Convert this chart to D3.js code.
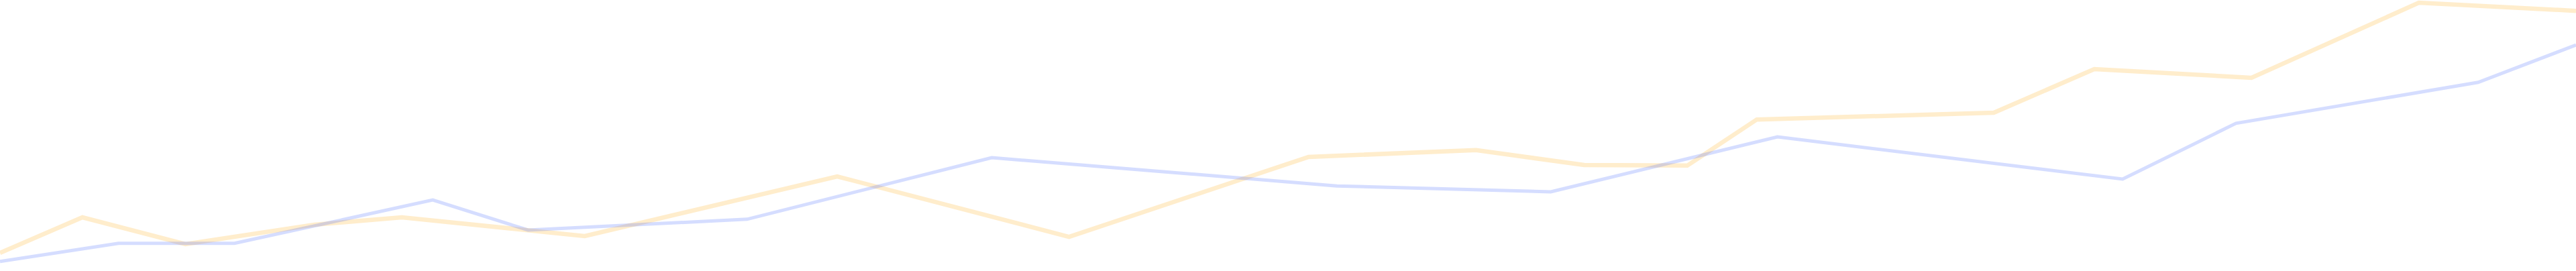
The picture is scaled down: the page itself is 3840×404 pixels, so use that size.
<!DOCTYPE html>
<html>
<head>
<meta charset="utf-8">
<script src="https://cdn.jsdelivr.net/npm/d3@7"></script>
<style>
  html, body { margin: 0; padding: 0; background: #ffffff; }
  svg { display: block; }
</style>
</head>
<body>
<div id="chart"></div>
<script>
// Series A (orange): x positions (0–100) and values (0–100)
const orangeX = [0, 3.2, 7.2, 12.2, 15.6, 22.7, 32.5, 41.5, 50.8, 57.3, 61.5, 65.5, 68.2, 77.4, 81.3, 87.4, 93.9, 100];
const orangeY = [6.7, 19.8, 9.9, 17.1, 19.8, 12.9, 34.9, 12.6, 42.1, 44.6, 39.1, 38.9, 55.9, 58.4, 74.5, 71.3, 99.0, 96.0];

// Series B (blue)
const blueX = [0, 4.6, 9.1, 16.8, 20.5, 29.0, 38.5, 51.9, 60.2, 69.0, 82.4, 86.8, 96.2, 100];
const blueY = [3.5, 10.2, 10.2, 26.2, 15.1, 19.1, 41.8, 31.4, 29.2, 49.5, 33.9, 54.5, 69.6, 83.4];

const W = 3840, H = 404;

const svg = d3.select("#chart").append("svg")
  .attr("width", W).attr("height", H);

svg.append("rect").attr("width", W).attr("height", H).attr("fill", "#ffffff");

const x = d3.scaleLinear().domain([0, 100]).range([0, W]);
const y = d3.scaleLinear().domain([0, 100]).range([H, 0]);

const line = d3.line().x(d => x(d[0])).y(d => y(d[1]));

const orangeData = orangeX.map((v, i) => [v, orangeY[i]]);
const blueData = blueX.map((v, i) => [v, blueY[i]]);

svg.append("path")
  .datum(orangeData)
  .attr("d", line)
  .attr("fill", "none")
  .attr("stroke", "rgb(255,165,0)")
  .attr("stroke-opacity", 0.2)
  .attr("stroke-width", 6.5);

svg.append("path")
  .datum(blueData)
  .attr("d", line)
  .attr("fill", "none")
  .attr("stroke", "rgb(45,85,255)")
  .attr("stroke-opacity", 0.2)
  .attr("stroke-width", 5);
</script>
</body>
</html>
